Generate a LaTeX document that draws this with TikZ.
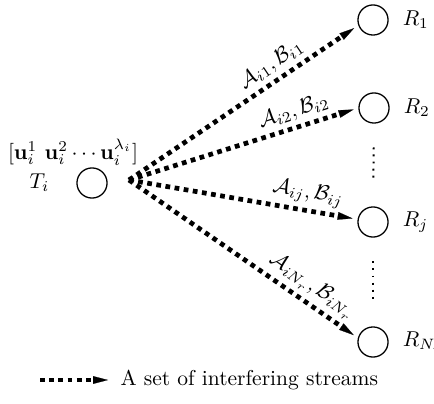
\documentclass[tikz,border=0pt]{standalone}
\usepackage{amsmath}
\usetikzlibrary{arrows.meta, positioning}
\tikzset{
  stn/.style     = {draw, circle, semithick, minimum size=14pt, inner sep=0pt},
  strm/.style    = {-{Triangle[length=7pt, width=3.6pt, line width=0.1pt]},
                    line width=2.2pt, dash pattern=on 2.2pt off 2.1pt,
                    shorten >=2.3pt},
  lab/.style     = {sloped, above, inner sep=2pt},
  gapdots/.style = {line width=0.9pt, dash pattern=on 0.9pt off 2.4pt,
                    shorten <=11pt, shorten >=11pt},
}

\begin{document}
\begin{tikzpicture}[x=0.465pt, y=-0.465pt]
  \useasboundingbox (0,0) rectangle (434,403);

  % transmitter
  \node[stn] (T) at (92,183) {};
  \node[left=9pt of T] (Tl) {$T_i$};
  \node (vec) at (73,152) {$[\mathbf{u}_i^1\ \mathbf{u}_i^2 \cdots \mathbf{u}_i^{\lambda_i}]$};
  \coordinate (src) at (129,180);

  % receivers
  \node[stn] (R1) at (373,20) {};
  \node[stn] (R2) at (374,108) {};
  \node[stn] (Rj) at (373,222) {};
  \node[stn] (RN) at (373,342) {};
  \node[right=3pt of R1] (R1l) {$R_1$};
  \node[right=3pt of R2] (R2l) {$R_2$};
  \node[right=3pt of Rj] (Rjl) {$R_j$};
  \node[right=3pt of RN] (RNl) {$R_{N_r}$};

  \draw[strm] (src) -- node[lab, pos=0.66] {$\mathcal{A}_{i1}, \mathcal{B}_{i1}$} (R1.200);
  \draw[strm] (src) -- node[lab, pos=0.74] {$\mathcal{A}_{i2}, \mathcal{B}_{i2}$} (R2.west);
  \draw[strm] (src) -- node[lab, pos=0.77] {$\mathcal{A}_{ij}, \mathcal{B}_{ij}$} (Rj.170);
  \draw[strm] (src) -- node[lab, pos=0.76] {$\mathcal{A}_{iN_r}, \mathcal{B}_{iN_r}$} (RN.165);

  \draw[gapdots] (R2.south) -- (Rj.north);
  \draw[gapdots] (Rj.south) -- (RN.north);

  % legend
  \node[anchor=west] (leg) at (113,380) {A set of interfering streams};
  \coordinate (legs) at (40,380);
  \draw[strm] (legs) -- (leg.west);
\end{tikzpicture}
\end{document}
